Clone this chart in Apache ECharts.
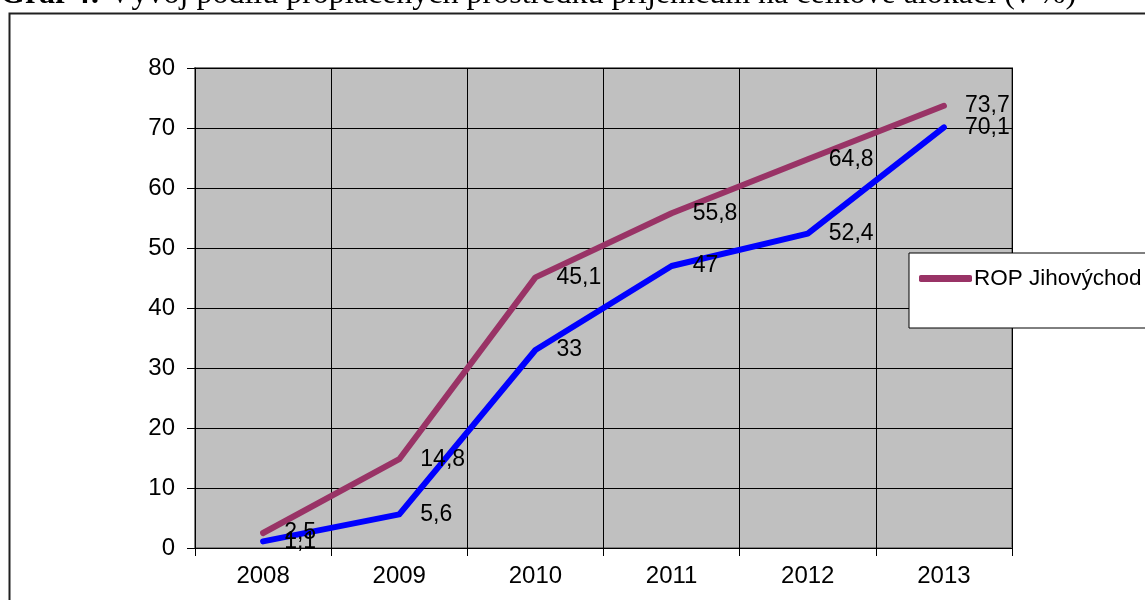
<!DOCTYPE html>
<html>
<head>
<meta charset="utf-8">
<script src="https://cdn.jsdelivr.net/npm/echarts@6/dist/echarts.min.js"></script>
<style>html,body{margin:0;padding:0;background:#fff;}#c{width:1145px;height:600px;}</style>
</head>
<body>
<div id="c"></div>
<script>
var categories = ['2008', '2009', '2010', '2011', '2012', '2013'];
var ropJihovychod = [2.5, 14.8, 45.1, 55.8, 64.8, 73.7];
var secondSeries = [1.1, 5.6, 33, 47, 52.4, 70.1];
var seriesNames = ['ROP Jihovýchod', 'ČR'];
var yTicks = { min: 0, max: 80, interval: 10 };
var titleBold = 'Graf 4:';
var titleRest = ' Vývoj podílu proplacených prostředků příjemcům na celkové alokaci (v %)';

var chart = echarts.init(document.getElementById('c'));
var font = 'Arial, "Liberation Sans", sans-serif';
function fmt(p) { return String(p.value).replace('.', ','); }

function lineSeries(name, data, color) {
  return {
    name: name, type: 'line', data: data,
    symbol: 'circle', symbolSize: 0.1, showSymbol: true, color: color,
    itemStyle: { color: color },
    lineStyle: { width: 6, color: color, cap: 'round', join: 'round' },
    label: { show: true, position: 'right', distance: 21, offset: [0, 2], fontSize: 23, color: '#000', formatter: fmt, fontFamily: font },
    labelLayout: { hideOverlap: false }
  };
}

chart.setOption({
  animation: false,
  backgroundColor: '#fff',
  textStyle: { fontFamily: font },
  grid: {
    left: 195, right: 133, top: 68, bottom: 52,
    show: true, backgroundColor: '#C0C0C0', borderColor: '#808080', borderWidth: 2
  },
  legend: {
    data: [seriesNames[0]],
    left: 909, top: 253,
    orient: 'vertical',
    backgroundColor: '#fff', borderColor: '#000', borderWidth: 1,
    padding: [14, 60, 38, 10],
    itemWidth: 53, itemHeight: 7, itemGap: 4,
    icon: 'roundRect',
    textStyle: { fontSize: 22.5, color: '#000', fontFamily: font, padding: [0, 0, 0, -3] }
  },
  xAxis: {
    type: 'category', data: categories, boundaryGap: true,
    axisLine: { lineStyle: { color: '#000', width: 1 } },
    axisTick: { show: true, length: 8, lineStyle: { color: '#000' } },
    axisLabel: { fontSize: 24, color: '#000', margin: 16, fontFamily: font },
    splitLine: { show: true, lineStyle: { color: '#000', width: 1 } }
  },
  yAxis: {
    type: 'value', min: yTicks.min, max: yTicks.max, interval: yTicks.interval,
    axisLine: { show: true, lineStyle: { color: '#000', width: 1 } },
    axisTick: { show: true, length: 8, lineStyle: { color: '#000' } },
    axisLabel: { fontSize: 24, color: '#000', margin: 20, fontFamily: font },
    splitLine: { show: true, lineStyle: { color: '#000', width: 1 } }
  },
  series: [
    lineSeries(seriesNames[0], ropJihovychod, '#993366'),
    lineSeries(seriesNames[1], secondSeries, '#0000FF')
  ],
  graphic: [
    {
      type: 'rect', left: 7, top: 11, z: -10, silent: true,
      shape: { x: 0, y: 0, width: 1200, height: 700 },
      style: { fill: 'none', stroke: '#202020', lineWidth: 2 }
    },
    {
      type: 'text', left: 0, top: -21, z: 10,
      style: {
        rich: {
          b: { fontFamily: '"Liberation Serif", "Times New Roman", serif', fontWeight: 'bold', fontSize: 32, fill: '#000' },
          r: { fontFamily: '"Liberation Serif", "Times New Roman", serif', fontSize: 32, fill: '#000' }
        },
        text: '{b|' + titleBold + '}{r|' + titleRest + '}'
      }
    }
  ]
});
</script>
</body>
</html>
